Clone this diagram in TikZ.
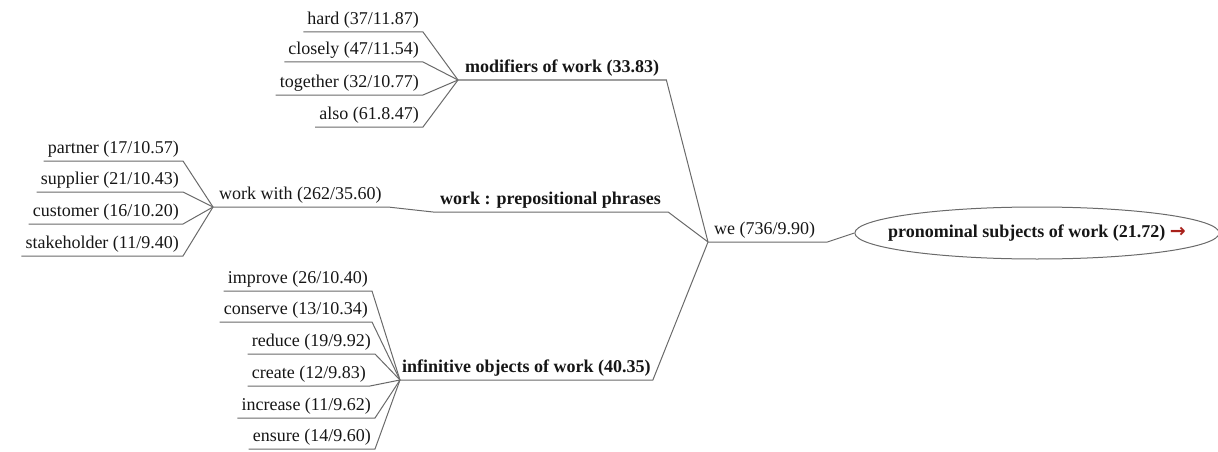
\documentclass[tikz,border=0pt]{standalone}
\usepackage{fontspec}
\setmainfont{Liberation Serif}
\newfontfamily\arrowfont{DejaVu Sans}
\usetikzlibrary{shapes.geometric}

\definecolor{linegray}{HTML}{6A6A6A}
\definecolor{textdark}{HTML}{161616}
\definecolor{arrowred}{HTML}{A8201A}

\tikzset{
  leaf/.style={anchor=south east, inner xsep=4pt, inner ysep=3pt, text=textdark},
  branch/.style={anchor=south west, inner xsep=7pt, inner ysep=3pt, text=textdark, font=\fontsize{18}{20}\selectfont\bfseries},
  link/.style={draw=linegray, line width=1pt}
}

\begin{document}
\begin{tikzpicture}[x=1pt, y=-1pt, font=\fontsize{18}{20}\selectfont]
  \useasboundingbox (0,0) rectangle (1218,452);

  % root
  \node[ellipse, draw=linegray, line width=1pt, minimum height=52pt, inner xsep=-20pt, inner ysep=0pt, text=textdark, font=\fontsize{18}{20}\selectfont\bfseries] (root) at (1037,233) {pronominal subjects of work (21.72) {\arrowfont\bfseries\color{arrowred}\fontsize{19}{19}\selectfont →}};
  \node[anchor=south west, inner xsep=6pt, inner ysep=3pt, text=textdark] (we) at (708,242) {we (736/9.90)};
  \path (we.south east) ++(6pt,0) coordinate (weend);

  % branches
  \node[branch] (mods) at (458,80) {modifiers of work (33.83)};
  \node[anchor=south west, inner xsep=6pt, inner ysep=3pt, text=textdark] (wwith) at (213,207) {work with (262/35.60)};
  \node[branch] (prep) at (433,212) {work : prepositional phrases};
  \node[branch, inner xsep=2pt] (infobj) at (400,380) {infinitive objects of work (40.35)};

  % modifiers
  \node[leaf] (hard) at (423,32) {hard (37/11.87)};
  \node[leaf] (closely) at (423,62) {closely (47/11.54)};
  \node[leaf] (together) at (423,95) {together (32/10.77)};
  \node[leaf] (also) at (423,127) {also (61.8.47)};

  % work with
  \node[leaf] (partner) at (183,161) {partner (17/10.57)};
  \node[leaf] (supplier) at (183,192) {supplier (21/10.43)};
  \node[leaf] (customer) at (183,224) {customer (16/10.20)};
  \node[leaf] (stakeholder) at (183,256) {stakeholder (11/9.40)};

  % infinitives
  \node[leaf] (improve) at (372,291) {improve (26/10.40)};
  \node[leaf] (conserve) at (372,322) {conserve (13/10.34)};
  \node[leaf] (reduce) at (375,354) {reduce (19/9.92)};
  \node[leaf] (create) at (370,386) {create (12/9.83)};
  \node[leaf] (increase) at (375,418) {increase (11/9.62)};
  \node[leaf] (ensure) at (375,449) {ensure (14/9.60)};

  % underlines and links
  \draw[link] (we.south west) -- (weend) -- (root.west);
  \draw[link] (mods.south west) -- (mods.south east) -- (we.south west);
  \draw[link] (prep.south west) -- (prep.south east) -- (we.south west);
  \draw[link] (infobj.south west) -- (infobj.south east) -- (we.south west);
  \draw[link] (wwith.south west) -- (wwith.south east) -- (prep.south west);

  \draw[link] (hard.south west) -- (hard.south east) -- (mods.south west);
  \draw[link] (closely.south west) -- (closely.south east) -- (mods.south west);
  \draw[link] (together.south west) -- (together.south east) -- (mods.south west);
  \draw[link] (also.south west) -- (also.south east) -- (mods.south west);

  \draw[link] (partner.south west) -- (partner.south east) -- (wwith.south west);
  \draw[link] (supplier.south west) -- (supplier.south east) -- (wwith.south west);
  \draw[link] (customer.south west) -- (customer.south east) -- (wwith.south west);
  \draw[link] (stakeholder.south west) -- (stakeholder.south east) -- (wwith.south west);

  \draw[link] (improve.south west) -- (improve.south east) -- (infobj.south west);
  \draw[link] (conserve.south west) -- (conserve.south east) -- (infobj.south west);
  \draw[link] (reduce.south west) -- (reduce.south east) -- (infobj.south west);
  \draw[link] (create.south west) -- (create.south east) -- (infobj.south west);
  \draw[link] (increase.south west) -- (increase.south east) -- (infobj.south west);
  \draw[link] (ensure.south west) -- (ensure.south east) -- (infobj.south west);
\end{tikzpicture}
\end{document}
